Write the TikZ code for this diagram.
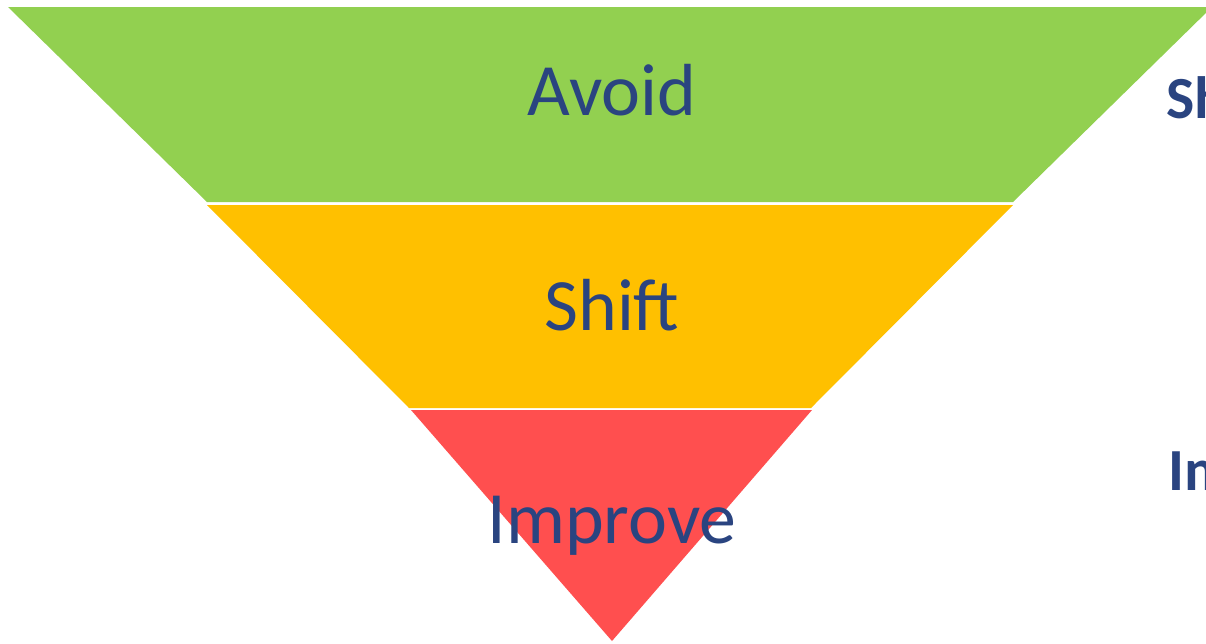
\documentclass[tikz,border=0pt]{standalone}
\usepackage{fontspec}
\setmainfont{Carlito}
\usepackage{tikz}

\definecolor{avoidgreen}{HTML}{92D050}
\definecolor{shiftyellow}{HTML}{FFC000}
\definecolor{improvered}{HTML}{FF4F4F}
\definecolor{labelblue}{HTML}{2A4480}

\tikzset{
  layer/.style={fill=#1,draw=none},
  label/.style={text=labelblue,font=\fontsize{42}{48}\selectfont,inner sep=0pt},
  side/.style={text=labelblue,font=\fontsize{34}{40}\selectfont\bfseries,inner sep=0pt,anchor=base west}
}

\begin{document}
\begin{tikzpicture}[x=0.02cm,y=-0.02cm]
  \useasboundingbox (0,0) rectangle (1206,643);
  \clip (0,0) rectangle (1206,643);

  \fill[layer=avoidgreen] (8,7) -- (1212,7) -- (1013,202) -- (207,202) -- cycle;
  \fill[layer=shiftyellow] (207,205) -- (1013,205) -- (811,408) -- (409,408) -- cycle;
  \fill[layer=improvered] (411,410) -- (812,410) -- (612,641) -- cycle;

  \node[label,anchor=base] (avoid) at (612,115) {Avoid};
  \node[label,anchor=base] (shift) at (612,330) {Shift};
  \node[label,anchor=base] (improve) at (612,543) {Improve};

  \node[side] (sideshift) at (1166,118) {Shift};
  \node[side] (sideimprove) at (1168,490) {Improve};
\end{tikzpicture}
\end{document}
